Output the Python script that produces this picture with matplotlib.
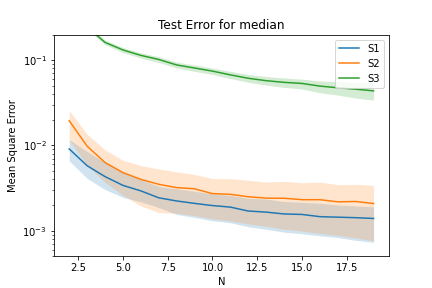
import matplotlib
matplotlib.use("Agg")
import matplotlib.pyplot as plt

N = list(range(2, 20))

s1 = [0.0091, 0.00578, 0.00431, 0.0034, 0.00293, 0.00243, 0.00223, 0.00209, 0.00197,
      0.00189, 0.0017, 0.00165, 0.00157, 0.00155, 0.00146, 0.00144, 0.00142, 0.00139]
s1_hi = [0.0117, 0.0085, 0.0063, 0.0049, 0.0040, 0.0033, 0.0031, 0.0029, 0.0027,
         0.0026, 0.0024, 0.00235, 0.0022, 0.00215, 0.0021, 0.002, 0.00195, 0.0019]
s1_lo = [0.00658, 0.0041, 0.00304, 0.00246, 0.00218, 0.00187, 0.00155, 0.00143, 0.00131,
         0.00124, 0.00111, 0.00104, 0.00096, 0.00092, 0.00087, 0.00083, 0.00077, 0.00073]

s2 = [0.0195, 0.0098, 0.0063, 0.0048, 0.0040, 0.0035, 0.0032, 0.0031, 0.00272,
      0.00267, 0.0025, 0.00241, 0.0024, 0.00231, 0.00231, 0.00218, 0.0022, 0.00208]
s2_hi = [0.0257, 0.0135, 0.0089, 0.0067, 0.0058, 0.0053, 0.0049, 0.00456, 0.00408,
         0.00408, 0.0039, 0.00372, 0.00379, 0.00365, 0.00372, 0.00346, 0.0035, 0.0034]
s2_lo = [0.0116, 0.0058, 0.0037, 0.0026, 0.00195, 0.00163, 0.0016, 0.0015, 0.00138,
         0.0013, 0.0012, 0.00113, 0.00104, 0.00099, 0.00093, 0.00088, 0.00082, 0.00076]

s3 = [0.33, 0.245, 0.162, 0.132, 0.114, 0.102, 0.088, 0.081, 0.0745,
      0.0673, 0.0614, 0.0575, 0.055, 0.0534, 0.0497, 0.0475, 0.0457, 0.0437]
s3_hi = [0.35, 0.26, 0.172, 0.141, 0.122, 0.110, 0.095, 0.088, 0.081,
         0.074, 0.068, 0.0643, 0.062, 0.060, 0.057, 0.056, 0.055, 0.0545]
s3_lo = [0.31, 0.23, 0.152, 0.123, 0.106, 0.094, 0.081, 0.074, 0.068,
         0.061, 0.055, 0.0512, 0.048, 0.046, 0.0415, 0.039, 0.036, 0.034]

fig, ax = plt.subplots(figsize=(6, 4), dpi=72)

series = [("S1", s1, s1_lo, s1_hi, "tab:blue"),
          ("S2", s2, s2_lo, s2_hi, "tab:orange"),
          ("S3", s3, s3_lo, s3_hi, "tab:green")]
for name, mid, lo, hi, col in series:
    ax.plot(N, mid, color=col, label=name)
    ax.fill_between(N, lo, hi, color=col, alpha=0.2, linewidth=0)

ax.set_yscale("log")
ax.set_ylim(5e-4, 0.2)
ax.set_xlabel("N")
ax.set_ylabel("Mean Square Error")
ax.set_title("Test Error for median")
ax.legend(loc="upper right")

plt.savefig("out.png", dpi=72)
